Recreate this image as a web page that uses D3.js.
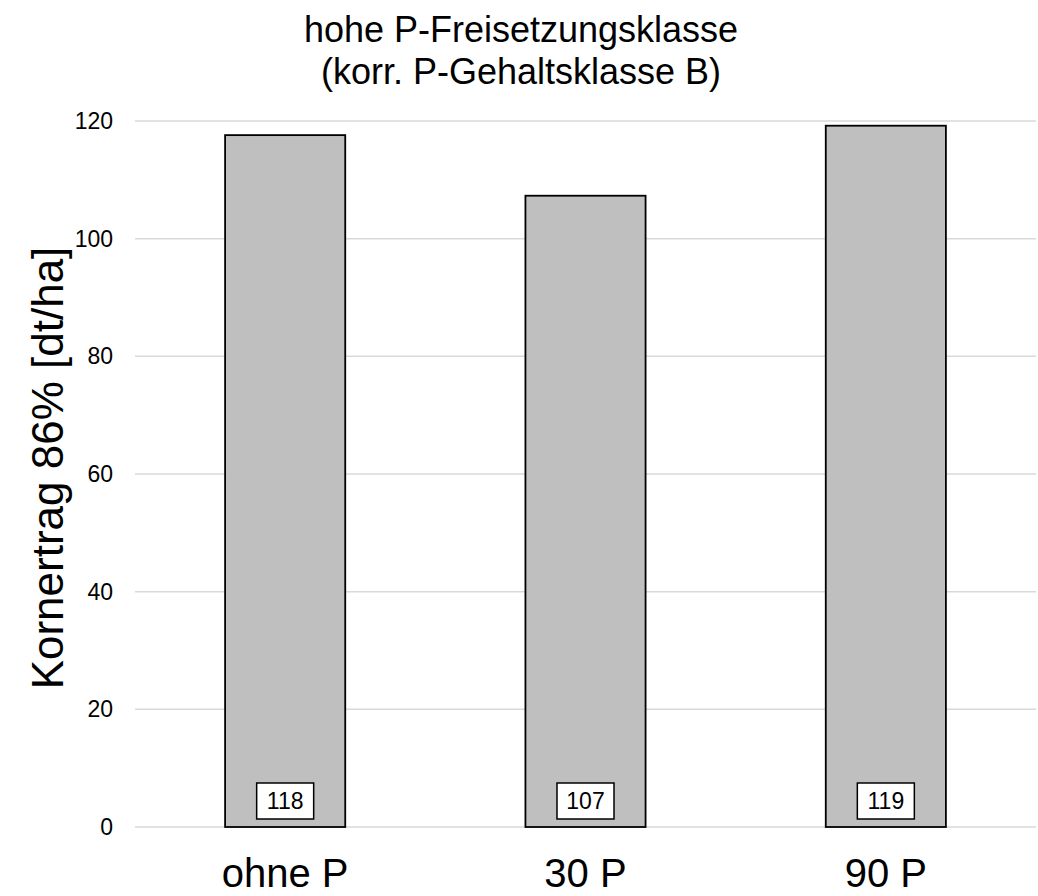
<!DOCTYPE html>
<html>
<head>
<meta charset="utf-8">
<script src="https://cdn.jsdelivr.net/npm/d3@7"></script>
<style>
  body { margin: 0; background: #fff; }
  text { font-family: Arial, "Liberation Sans", sans-serif; fill: #000; }
</style>
</head>
<body>
<div id="chart"></div>
<script>
// data
var categories = ["ohne P", "30 P", "90 P"];
var values = [117.6, 107.3, 119.2];
var labels = ["118", "107", "119"];
var yTicks = [0, 20, 40, 60, 80, 100, 120];
var titleLines = ["hohe P-Freisetzungsklasse", "(korr. P-Gehaltsklasse B)"];
var yTitle = "Kornertrag 86% [dt/ha]";

var W = 1038, H = 896;
var margin = { top: 121, right: 2, bottom: 69, left: 135 },
    width = W - margin.left - margin.right,
    height = H - margin.top - margin.bottom;

var svg = d3.select("#chart")
    .append("svg")
    .attr("width", W)
    .attr("height", H);

var g = svg.append("g")
    .attr("transform", "translate(" + margin.left + "," + margin.top + ")");

var x = d3.scaleBand().domain(categories).range([0, width]).paddingInner(0.6).paddingOuter(0.3);
var y = d3.scaleLinear().domain([0, 120]).range([height, 0]);

// gridlines
g.selectAll(".grid")
    .data(yTicks)
    .enter()
    .append("line")
    .attr("x1", 0)
    .attr("x2", width)
    .attr("y1", d => y(d))
    .attr("y2", d => y(d))
    .attr("stroke", "#d9d9d9")
    .attr("stroke-width", 1.5);

// y axis labels
var yAxis = d3.axisLeft(y).tickValues(yTicks).tickSize(0).tickPadding(22);
var ya = g.append("g").call(yAxis).attr("font-size", 23);
ya.select(".domain").remove();
ya.selectAll("text").attr("fill", "#000");

// bars
g.selectAll(".bar")
    .data(values)
    .enter()
    .append("rect")
    .attr("x", (d, i) => x(categories[i]))
    .attr("width", x.bandwidth())
    .attr("y", d => y(d))
    .attr("height", d => y(0) - y(d))
    .attr("fill", "#bfbfbf")
    .attr("stroke", "#000")
    .attr("stroke-width", 1.8);

// value boxes
var boxW = 57, boxH = 36;
var lab = g.selectAll(".lab")
    .data(labels)
    .enter()
    .append("g")
    .attr("transform", (d, i) => "translate(" + (x(categories[i]) + x.bandwidth() / 2) + "," + (y(0) - 8) + ")");
lab.append("rect")
    .attr("x", -boxW / 2)
    .attr("y", -boxH)
    .attr("width", boxW)
    .attr("height", boxH)
    .attr("fill", "#fff")
    .attr("stroke", "#000")
    .attr("stroke-width", 1.5);
lab.append("text")
    .attr("text-anchor", "middle")
    .attr("y", -10)
    .attr("font-size", 23)
    .text(d => d);

// x axis labels
var xAxis = d3.axisBottom(x).tickSize(0).tickPadding(0);
var xa = g.append("g").attr("transform", "translate(0," + height + ")").call(xAxis).attr("font-size", 40);
xa.select(".domain").remove();
xa.selectAll("text")
    .attr("dy", null)
    .attr("y", 60)
    .attr("fill", "#000");

// title
svg.selectAll(".title")
    .data(titleLines)
    .enter()
    .append("text")
    .attr("x", 521)
    .attr("y", (d, i) => 42 + i * 42)
    .attr("text-anchor", "middle")
    .attr("font-size", 36)
    .text(d => d);

// y axis title
svg.append("text")
    .attr("transform", "translate(63," + 468 + ") rotate(-90)")
    .attr("text-anchor", "middle")
    .attr("font-size", 44)
    .text(yTitle);
</script>
</body>
</html>
